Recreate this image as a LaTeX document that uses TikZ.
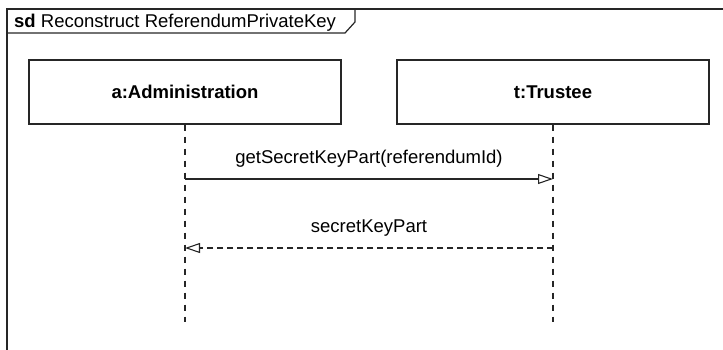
\documentclass[tikz,border=0pt]{standalone}
\usepackage{fontspec}
\setmainfont{Liberation Sans}
\usetikzlibrary{arrows.meta}
\begin{document}
\begin{tikzpicture}[x=1pt,y=-1pt,
  lifebox/.style={draw=black!85,line width=1.2pt,minimum width=312pt,minimum height=64pt,inner sep=0pt,font=\fontsize{18.5}{21}\selectfont\bfseries},
  lifeline/.style={draw=black!85,line width=1.1pt,dash pattern=on 6pt off 6pt},
  msgcall/.style={draw=black!85,line width=1.1pt,-{Triangle[open,length=15pt,width=10pt,line width=1.1pt]}},
  msgreply/.style={draw=black!85,line width=1.1pt,dash pattern=on 6pt off 4pt,-{Triangle[open,length=15pt,width=10pt,line width=1.1pt]}},
  lbl/.style={font=\fontsize{18.5}{21}\selectfont,inner sep=0pt}]
\useasboundingbox (0,0) rectangle (723,349);
\begin{scope}
\clip (0,0) rectangle (723,349);
\draw[black!85,line width=1.5pt] (7,370) -- (7,9) -- (740,9);
\end{scope}
\draw[black!85,line width=1.2pt] (7,33) -- (345,33) -- (355,22) -- (355,9);
\node[lbl,anchor=base west] (title) at (14,27) {\textbf{sd} Reconstruct ReferendumPrivateKey};
\node[lifebox] (a) at (185,92) {a:Administration};
\node[lifebox] (t) at (553,92) {t:Trustee};
\coordinate (aend) at (185,322);
\coordinate (tend) at (553,322);
\draw[lifeline] (a.south) -- (aend);
\draw[lifeline] (t.south) -- (tend);
\coordinate (m1s) at (185,179);
\coordinate (m1e) at (553,179);
\coordinate (m2s) at (553,248);
\coordinate (m2e) at (185,248);
\draw[msgcall] (m1s) -- node[lbl,above=11pt] (l1) {getSecretKeyPart(referendumId)} (m1e);
\draw[msgreply] (m2s) -- node[lbl,above=11pt] (l2) {secretKeyPart} (m2e);
\end{tikzpicture}
\end{document}
